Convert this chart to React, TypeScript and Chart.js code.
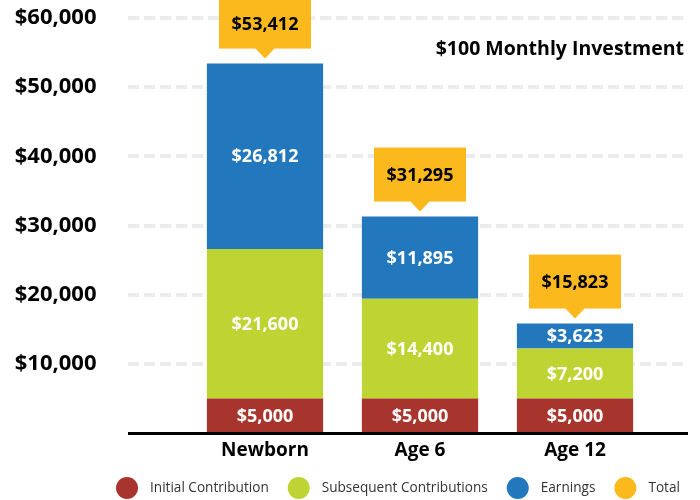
import { useEffect, useRef } from 'react';
import { Chart, registerables } from 'chart.js';

Chart.register(...registerables);

const categories = ['Newborn', 'Age 6', 'Age 12'];
const initialContribution = [5000, 5000, 5000];
const subsequentContributions = [21600, 14400, 7200];
const earnings = [26812, 11895, 3623];
const totals = [53412, 31295, 15823];
const yMin = 0;
const yMax = 60000;
const yStep = 10000;
const chartTitle = '$100 Monthly Investment';
const legendLabels = ['Initial Contribution', 'Subsequent Contributions', 'Earnings', 'Total'];

const RED = '#A8352D';
const GREEN = '#BDD432';
const BLUE = '#2277BD';
const YELLOW = '#FBB91E';
const legendColors = [RED, GREEN, BLUE, YELLOW];
const FONT = '"Open Sans", "DejaVu Sans", sans-serif';

const fmt = (v: number) => '$' + Number(v).toLocaleString('en-US');

const decorPlugin = {
  id: 'decor',
  beforeDatasetsDraw(chart: any) {
    const { ctx } = chart;
    const y = chart.scales.y;
    ctx.save();
    ctx.strokeStyle = '#ECECEC';
    ctx.lineWidth = 4;
    ctx.setLineDash([11, 5]);
    y.ticks.forEach((t: any) => {
      if (t.value === 0) return;
      const py = Math.round(y.getPixelForValue(t.value));
      ctx.beginPath();
      ctx.moveTo(128, py);
      ctx.lineTo(686, py);
      ctx.stroke();
    });
    ctx.restore();
  },
  afterDatasetsDraw(chart: any) {
    const { ctx } = chart;
    const y = chart.scales.y;
    const x = chart.scales.x;
    ctx.save();

    // baseline axis
    const y0 = y.getPixelForValue(0);
    ctx.fillStyle = '#000';
    ctx.fillRect(128, Math.round(y0) - 1, 560, 3);

    // segment labels
    ctx.font = `bold 18px ${FONT}`;
    ctx.textAlign = 'center';
    ctx.textBaseline = 'middle';
    ctx.fillStyle = '#fff';
    chart.data.datasets.forEach((ds: any, i: number) => {
      const meta = chart.getDatasetMeta(i);
      meta.data.forEach((el: any, j: number) => {
        const cy = (el.y + el.base) / 2;
        ctx.fillText(fmt(ds.data[j]), el.x, cy + 1);
      });
    });

    // total callouts
    const boxW = 92;
    const boxH = 54;
    totals.forEach((tot, j) => {
      const cx = x.getPixelForValue(j);
      const top = y.getPixelForValue(tot);
      const bottom = top - 15;
      const bTop = Math.max(0, bottom - boxH);
      ctx.fillStyle = YELLOW;
      ctx.fillRect(cx - boxW / 2, bTop, boxW, bottom - bTop);
      ctx.beginPath();
      ctx.moveTo(cx - 10, bottom - 0.5);
      ctx.lineTo(cx + 10, bottom - 0.5);
      ctx.lineTo(cx, top - 5);
      ctx.closePath();
      ctx.fill();
      ctx.fillStyle = '#000';
      ctx.font = `bold 18px ${FONT}`;
      ctx.fillText(fmt(tot), cx, (bTop + bottom) / 2 + 1);
    });

    // title
    ctx.font = `bold 19.5px ${FONT}`;
    ctx.textAlign = 'right';
    ctx.fillStyle = '#000';
    ctx.fillText(chartTitle, 684, 49);

    // legend
    ctx.font = `13.6px ${FONT}`;
    ctx.textAlign = 'left';
    let lx = 116;
    const ly = 488;
    legendLabels.forEach((lab, k) => {
      ctx.fillStyle = legendColors[k];
      ctx.beginPath();
      ctx.arc(lx + 11, ly, 11, 0, Math.PI * 2);
      ctx.fill();
      ctx.fillStyle = '#333';
      ctx.fillText(lab, lx + 34, ly);
      lx += 34 + ctx.measureText(lab).width + 19;
    });

    ctx.restore();
  },
};

export default function App() {
  const ref = useRef<HTMLCanvasElement | null>(null);
  useEffect(() => {
    if (!ref.current) return;
    const chart = new Chart(ref.current, {
      type: 'bar',
      data: {
        labels: categories,
        datasets: [
          { label: legendLabels[0], data: initialContribution, backgroundColor: RED },
          { label: legendLabels[1], data: subsequentContributions, backgroundColor: GREEN },
          { label: legendLabels[2], data: earnings, backgroundColor: BLUE },
        ],
      },
      options: {
        responsive: true,
        maintainAspectRatio: false,
        animation: false,
        layout: { padding: { left: 0, right: 47.5, top: 18, bottom: 0 } },
        datasets: { bar: { barPercentage: 0.75, categoryPercentage: 1, borderWidth: 0 } },
        plugins: {
          legend: { display: false },
          tooltip: { enabled: false },
          title: { display: false },
        },
        scales: {
          x: {
            stacked: true,
            grid: { display: false, drawTicks: false },
            border: { display: false },
            ticks: { color: '#000', font: { family: FONT, size: 19, weight: 'bold' }, padding: 6 },
            afterFit: (s: any) => { s.height = 67; s.paddingLeft = 0; s.paddingRight = 0; },
          },
          y: {
            stacked: true,
            min: yMin,
            max: yMax,
            grid: { display: false, drawTicks: false },
            border: { display: false },
            ticks: {
              stepSize: yStep,
              color: '#000',
              padding: 91,
              font: { family: FONT, size: 22, weight: 'bold' },
              callback: (v: any) => (Number(v) === 0 ? '' : fmt(Number(v))),
            },
            afterFit: (s: any) => { s.width = 187.5; s.paddingTop = 0; s.paddingBottom = 0; },
          },
        },
      },
      plugins: [decorPlugin],
    });
    return () => chart.destroy();
  }, []);
  return (
    <div style={{ position: 'fixed', left: 0, top: 0, width: 700, height: 500, background: '#fff' }}>
      <canvas ref={ref} />
    </div>
  );
}
